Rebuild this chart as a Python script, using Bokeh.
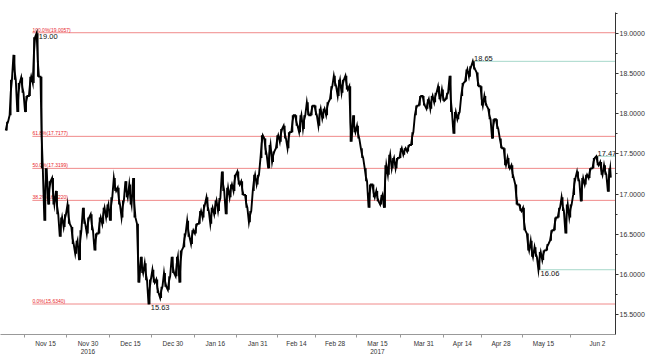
import numpy as np
import pandas as pd
from bokeh.plotting import figure
from bokeh.models import FixedTicker, NumeralTickFormatter, Label, ColumnDataSource
from bokeh.embed import file_html
from bokeh.resources import INLINE
from bokeh.core.properties import value

# ---------------- data (daily high / low, business days from 2016-11-01) ----------------
lows = [17.79, 17.98, 18.42, 18.02, 18.26, 18.02, 18.22, 18.38, 18.46, 17.32,
        16.67, 16.87, 16.87, 16.75, 16.47, 16.59, 16.63, 16.38, 16.26, 16.18,
        16.63, 16.51, 16.55, 16.30, 16.51, 16.63, 16.71, 16.67, 17.04, 16.87,
        16.71, 16.96, 16.87, 16.71, 15.90, 16.02, 15.93, 15.63, 15.90, 15.77,
        15.71, 15.85, 15.81, 16.02, 15.98, 15.90, 16.34, 16.47, 16.38, 16.51,
        16.63, 16.71, 16.79, 16.63, 16.75, 16.79, 17.04, 16.75, 16.96, 17.04,
        17.12, 16.99, 16.83, 16.65, 17.04, 17.12, 17.45, 17.49, 17.32, 17.40,
        17.57, 17.65, 17.69, 17.57, 17.77, 17.85, 17.77, 17.81, 17.98, 17.98,
        17.98, 17.85, 17.94, 17.98, 18.18, 18.34, 18.22, 18.26, 18.30, 17.65,
        17.77, 17.69, 17.45, 17.16, 16.83, 16.96, 16.91, 16.87, 16.83, 17.24,
        17.32, 17.32, 17.45, 17.49, 17.53, 17.61, 17.98, 18.10, 18.10, 18.06,
        18.06, 18.14, 18.18, 18.16, 18.18, 18.02, 17.75, 17.93, 18.22, 18.40,
        18.46, 18.55, 18.34, 18.10, 18.10, 17.93, 17.69, 17.81, 17.57, 17.36,
        17.32, 17.20, 16.87, 16.79, 16.55, 16.30, 16.22, 16.22, 16.06, 16.18,
        16.30, 16.42, 16.55, 16.71, 16.79, 16.51, 16.71, 16.99, 17.16, 16.91,
        17.12, 17.20, 17.32, 17.36, 17.24, 17.24, 17.03]
highs = [17.90, 18.42, 18.73, 18.38, 18.45, 18.22, 18.46, 18.95, 19.00, 18.46,
         17.32, 17.16, 17.20, 17.04, 16.71, 16.75, 16.87, 16.59, 16.42, 16.55,
         16.83, 16.71, 16.75, 16.51, 16.71, 16.83, 16.87, 16.96, 17.20, 17.08,
         16.92, 17.16, 17.12, 17.20, 16.63, 16.22, 16.14, 15.94, 16.06, 15.94,
         15.85, 16.02, 15.98, 16.22, 16.22, 16.30, 16.51, 16.67, 16.55, 16.63,
         16.79, 16.87, 16.96, 16.83, 16.92, 16.95, 17.28, 17.08, 17.12, 17.24,
         17.28, 17.16, 16.99, 16.79, 17.24, 17.24, 17.73, 17.69, 17.61, 17.53,
         17.73, 17.81, 17.85, 17.77, 17.98, 17.98, 17.98, 17.98, 18.14, 18.10,
         18.10, 18.06, 18.06, 18.14, 18.34, 18.47, 18.42, 18.42, 18.47, 18.34,
         17.98, 17.85, 17.57, 17.32, 17.12, 17.12, 17.04, 16.99, 17.36, 17.49,
         17.45, 17.45, 17.57, 17.57, 17.61, 17.77, 18.10, 18.22, 18.22, 18.18,
         18.22, 18.26, 18.34, 18.30, 18.26, 18.47, 18.02, 18.02, 18.38, 18.55,
         18.59, 18.65, 18.51, 18.34, 18.22, 18.06, 17.93, 17.93, 17.69, 17.57,
         17.45, 17.36, 17.12, 16.87, 16.83, 16.51, 16.42, 16.34, 16.28, 16.30,
         16.38, 16.55, 16.71, 16.83, 16.96, 16.87, 16.87, 17.20, 17.28, 17.20,
         17.24, 17.32, 17.45, 17.47, 17.40, 17.36, 17.32]
last_price = 17.2043

fib_low = 15.6340
fib_high = 19.0057
fib_ratios = [1.0, 0.618, 0.5, 0.382, 0.0]
fib_start = 6.6  # index where the retracement lines begin

y_ticks = [15.5, 16.0, 16.5, 17.0, 17.5, 18.0, 18.5, 19.0]
tick_dates = ["2016-11-15", "2016-11-30", "2016-12-15", "2016-12-30", "2017-01-16",
              "2017-01-31", "2017-02-14", "2017-02-28", "2017-03-15", "2017-03-31",
              "2017-04-14", "2017-04-28", "2017-05-15", "2017-06-02"]
year_labels = {"2016-11-30": "2016", "2017-03-15": "2017"}

# ---------------- derived ----------------
n = len(highs)
idx = np.arange(n)
dates = pd.bdate_range("2016-11-01", periods=n)
lo = np.array(lows)
hi = np.array(highs)
mid = (lo + hi) / 2

x_start, x_end = -1.66, 157.67
y_start, y_end = 15.255, 19.257

tick_idx = [int(dates.get_loc(pd.Timestamp(d))) for d in tick_dates]
overrides = {}
for d, i in zip(tick_dates, tick_idx):
    ts = pd.Timestamp(d)
    lab = f"{ts:%b} {ts.day}"
    if d in year_labels:
        lab += "\n" + year_labels[d]
    overrides[i] = lab
minor_x = [tick_idx[0] - (tick_idx[1] - tick_idx[0]) / 2]
minor_x += [(a + b) / 2 for a, b in zip(tick_idx[:-1], tick_idx[1:])]
minor_y = [(a + b) / 2 for a, b in zip(y_ticks[:-1], y_ticks[1:])] + [y_ticks[0] - 0.25, y_ticks[-1] + 0.25]

# price path: within each day travel low->high when the trend is up, high->low when down
px, py = [], []
for i in range(n):
    nxt = mid[i + 1] if i + 1 < n else last_price
    if nxt >= mid[i]:
        a, b = lo[i], hi[i]
    else:
        a, b = hi[i], lo[i]
    px += [i - 0.3, i, i + 0.3]
    py += [a, (a + b) / 2 + (b - a) * 0.15, b]
px.append(n - 1 + 0.45)
py.append(last_price)

p = figure(width=647, height=357, x_range=(x_start, x_end), y_range=(y_start, y_end),
           output_backend="svg", toolbar_location=None, y_axis_location="right",
           min_border_left=0, min_border_right=32, min_border_top=12, min_border_bottom=18,
           outline_line_color=None, background_fill_color="white", border_fill_color="white")
p.grid.visible = False

# fib retracement lines
fib_levels = [fib_low + r * (fib_high - fib_low) for r in fib_ratios]
fib_src = ColumnDataSource(dict(
    x0=[fib_start] * len(fib_levels), x1=[x_end] * len(fib_levels), y=fib_levels,
    text=[f"{r*100:.1f}%({round(l + 1e-9, 4):.4f})" for r, l in zip(fib_ratios, fib_levels)]))
p.segment(x0="x0", y0="y", x1="x1", y1="y", source=fib_src, line_color="#f08a8a", line_width=1)
p.text(x="x0", y="y", text="text", source=fib_src, text_color="#e8262b",
       text_font=value("Liberation Sans"), text_font_size="5px",
       text_baseline="bottom", text_align="left", y_offset=0)

# extreme markers
i_hi = int(np.argmax(hi))
i_lo = int(np.argmin(lo))
i_pk2 = 100 + int(np.argmax(hi[100:140]))
i_lo2 = 120 + int(np.argmin(lo[120:]))
i_pk3 = 140 + int(np.argmax(hi[140:]))
green = "#a6d8ca"
g_src = ColumnDataSource(dict(x0=[i_pk2, i_lo2, i_pk3], x1=[x_end] * 3,
                              y=[hi[i_pk2], lo[i_lo2], hi[i_pk3]]))
p.segment(x0="x0", y0="y", x1="x1", y1="y", source=g_src, line_color=green, line_width=1)

# price series
p.segment(x0=idx, y0=lo, x1=idx, y1=hi, line_color="black", line_width=1.5)
p.line(px, py, line_color="black", line_width=1.9, line_join="miter")

top_src = ColumnDataSource(dict(x=[i_hi, i_lo, i_lo2], y=[hi[i_hi], lo[i_lo], lo[i_lo2]],
                                text=[f"{hi[i_hi]:.2f}", f"{lo[i_lo]:.2f}", f"{lo[i_lo2]:.2f}"]))
p.text(x="x", y="y", text="text", source=top_src, text_color="#111111",
       text_font=value("Liberation Sans"), text_font_size="7.5px",
       text_baseline="top", text_align="left", x_offset=1, y_offset=1)
bot_src = ColumnDataSource(dict(x=[i_pk2, i_pk3], y=[hi[i_pk2], hi[i_pk3]],
                                text=[f"{hi[i_pk2]:.2f}", f"{hi[i_pk3]:.2f}"]))
p.text(x="x", y="y", text="text", source=bot_src, text_color="#111111",
       text_font=value("Liberation Sans"), text_font_size="7.5px",
       text_baseline="bottom", text_align="left", x_offset=0, y_offset=0)

# axes
ya = p.yaxis[0]
ya.ticker = FixedTicker(ticks=y_ticks, minor_ticks=minor_y)
ya.formatter = NumeralTickFormatter(format="0.0000")
ya.major_tick_out = 3
ya.major_tick_in = 0
ya.minor_tick_out = 2
ya.minor_tick_in = 0
ya.major_label_standoff = 1
ya.major_label_text_font = "Liberation Sans"
ya.major_label_text_font_size = "7px"
ya.major_label_text_color = "#333333"
ya.axis_line_color = "#333333"
ya.major_tick_line_color = "#333333"
ya.minor_tick_line_color = "#333333"

xa = p.xaxis[0]
xa.ticker = FixedTicker(ticks=tick_idx, minor_ticks=minor_x)
xa.major_label_overrides = overrides
xa.major_tick_out = 0
xa.major_tick_in = 0
xa.minor_tick_out = 3
xa.minor_tick_in = 0
xa.major_label_standoff = 2
xa.major_label_text_font = "Liberation Sans"
xa.major_label_text_font_size = "6.5px"
xa.major_label_text_color = "#333333"
xa.axis_line_color = "#999999"
xa.minor_tick_line_color = "#999999"

# last price tag
p.add_layout(Label(x=x_end, y=last_price, x_offset=1, text=f"{last_price:.4f}",
                   text_color="white", background_fill_color="black",
                   text_font="Liberation Sans", text_font_size="7px",
                   text_baseline="middle", text_align="left", level="overlay"))

open("out.html", "w").write(file_html(p, INLINE))
